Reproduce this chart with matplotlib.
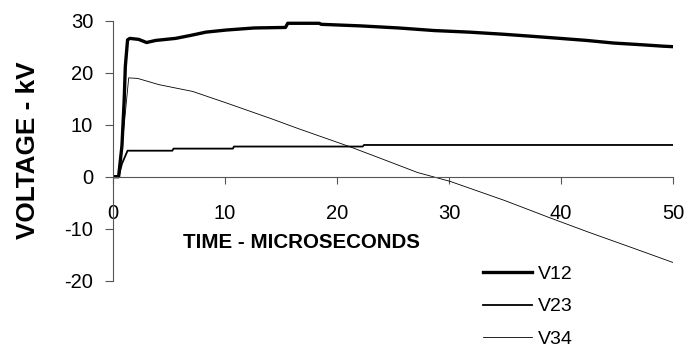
import numpy as np
import matplotlib
matplotlib.use("Agg")
import matplotlib.pyplot as plt

plt.rcParams['font.family'] = ['Liberation Sans', 'DejaVu Sans']
plt.rcParams['axes.unicode_minus'] = False

# values
t12 = [0, 0.5, 0.8, 1.0, 1.1, 1.3, 1.5, 2.3, 3.0, 3.8, 5.6, 7.0, 8.3, 10.1, 12.6,
       15.4, 15.6, 18.4, 18.6, 22.1, 25.5, 28.7, 31.8, 34.8, 37.4, 39.9, 42.3,
       44.7, 47.0, 49.1, 50]
v12 = [0, 0, 6, 14.8, 21.2, 26.3, 26.6, 26.4, 25.8, 26.2, 26.6, 27.2, 27.8, 28.2, 28.6,
       28.7, 29.5, 29.5, 29.3, 29.0, 28.6, 28.1, 27.8, 27.4, 27.0, 26.6, 26.2,
       25.7, 25.4, 25.1, 25.0]

t23 = [0, 0.5, 0.8, 1.3, 5.3, 5.4, 10.7, 10.8, 22.3, 22.4, 50]
v23 = [0, 0, 2.5, 5.0, 5.0, 5.4, 5.4, 5.8, 5.8, 6.1, 6.1]

t34 = [0, 0.5, 1.0, 1.4, 2.2, 4.1, 7.1, 10.1, 14.2, 16.6, 21.1, 23.8, 27.2,
       30.1, 35.0, 39.0, 42.5, 46.4, 50]
v34 = [0, 0, 10, 19.0, 18.9, 17.7, 16.4, 14.2, 11.1, 9.2, 5.8, 3.6, 0.8,
       -0.9, -4.6, -7.9, -10.7, -13.7, -16.5]

fig = plt.figure(figsize=(6.98, 3.53), dpi=100)
ax = fig.add_axes([0.1619, 0.2048, 0.8023, 0.7366])

ax.plot(t12, v12, color='black', lw=2.4, label='V12')
ax.plot(t23, v23, color='black', lw=1.3, label='V23')
ax.plot(t34, v34, color='black', lw=0.6, label='V34')

ax.set_xlim(0, 50)
ax.set_ylim(-20, 30)
ax.set_xticks([0, 10, 20, 30, 40, 50])
ax.set_yticks([-20, -10, 0, 10, 20, 30])

ax.spines['top'].set_visible(False)
ax.spines['right'].set_visible(False)
ax.spines['bottom'].set_position(('data', 0))
ax.spines['left'].set_color('#555555')
ax.spines['bottom'].set_color('#555555')
ax.spines['left'].set_linewidth(0.8)
ax.spines['bottom'].set_linewidth(0.8)

ax.tick_params(axis='x', direction='out', length=5, pad=15, labelsize=14.5,
               color='#555555', width=0.8)
ax.tick_params(axis='y', direction='out', length=5.8, pad=8.5, labelsize=14.5,
               color='#555555', width=0.8)

fig.text(301.5 / 698, 1 - 243 / 353, 'TIME - MICROSECONDS', fontsize=14.8,
         fontweight='bold', ha='center', va='center')
fig.text(28 / 698, 1 - 150 / 353, 'VOLTAGE - kV', fontsize=18.8,
         fontweight='bold', ha='center', va='center', rotation=90)

fig.legend(loc='upper left', bbox_to_anchor=(483 / 698, 1 - 265 / 353),
           frameon=False, fontsize=14, handlelength=2.5, handletextpad=0.3,
           labelspacing=0.78, borderpad=0, borderaxespad=0)

fig.savefig('out.png', dpi=100)
